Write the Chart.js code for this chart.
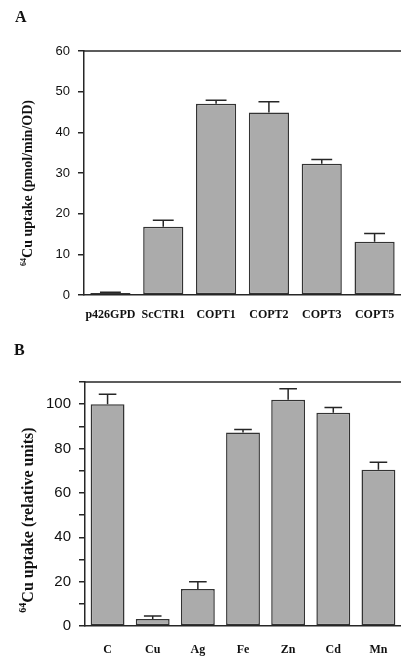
<!DOCTYPE html>
<html><head><meta charset="utf-8">
<script src="https://cdn.jsdelivr.net/npm/chart.js@4"></script>
<style>
html,body{margin:0;padding:0;background:#fff;width:401px;height:657px;overflow:hidden}
.wrap{position:absolute;left:0;width:401px}
#wa{top:0;height:330px}
#wb{top:330px;height:327px}
</style></head><body>
<div class="wrap" id="wa"><canvas id="ca"></canvas></div>
<div class="wrap" id="wb"><canvas id="cb"></canvas></div>
<script>
// Panel A data
const categoriesA = ['p426GPD', 'ScCTR1', 'COPT1', 'COPT2', 'COPT3', 'COPT5'];
const uptakeA = [0.5, 16.8, 47.0, 44.9, 32.3, 13.1];
const errorA = [0.2, 1.6, 0.9, 2.6, 1.0, 2.0];
const tickLabelsA = [0, 10, 20, 30, 40, 50, 60];
// Panel B data
const categoriesB = ['C', 'Cu', 'Ag', 'Fe', 'Zn', 'Cd', 'Mn'];
const uptakeB = [100, 3.2, 16.7, 87.2, 102, 96.1, 70.4];
const errorB = [4.5, 1.3, 3.3, 1.4, 5.0, 2.4, 3.4];
const tickLabelsB = [0, 20, 40, 60, 80, 100];

const INK = '#262626';
const SANS = '"Liberation Sans", Arial, sans-serif';
const SERIF = '"Liberation Serif", "Times New Roman", serif';

const errPlugin = {
  id: 'errbars',
  afterDatasetsDraw(chart, args, opts) {
    const meta = chart.getDatasetMeta(0);
    const ys = chart.scales.y;
    const vals = chart.data.datasets[0].data;
    const ctx = chart.ctx;
    ctx.save();
    ctx.strokeStyle = INK;
    ctx.lineWidth = 1.5;
    meta.data.forEach((bar, i) => {
      const yt = ys.getPixelForValue(vals[i] + opts.errors[i]);
      const half = bar.width * 0.26;
      ctx.beginPath();
      ctx.moveTo(bar.x, bar.y);
      ctx.lineTo(bar.x, yt);
      ctx.moveTo(bar.x - half, yt);
      ctx.lineTo(bar.x + half, yt);
      ctx.stroke();
    });
    ctx.restore();
  },
  afterDraw(chart, args, opts) {
    const ctx = chart.ctx;
    const ca = chart.chartArea;
    ctx.save();
    // top frame line
    ctx.strokeStyle = INK;
    ctx.lineWidth = 1.5;
    ctx.beginPath();
    ctx.moveTo(ca.left, ca.top);
    ctx.lineTo(chart.width, ca.top);
    ctx.stroke();
    // panel letter
    ctx.fillStyle = '#111';
    ctx.font = 'bold 16px ' + SERIF;
    ctx.textBaseline = 'alphabetic';
    ctx.textAlign = 'left';
    ctx.fillText(opts.letter, opts.letterX, opts.letterY);
    // rotated y title with superscript
    ctx.translate(opts.titleX, opts.titleY);
    ctx.rotate(-Math.PI / 2);
    const fs = opts.titleSize;
    const ss = Math.round(fs * 0.6);
    ctx.font = 'bold ' + ss + 'px ' + SERIF;
    const sw = ctx.measureText('64').width;
    ctx.font = 'bold ' + fs + 'px ' + SERIF;
    const tw = ctx.measureText(opts.title).width;
    const x0 = -(sw + tw) / 2;
    const base = fs * 0.35;
    ctx.font = 'bold ' + ss + 'px ' + SERIF;
    ctx.fillText('64', x0, base - fs * 0.4);
    ctx.font = 'bold ' + fs + 'px ' + SERIF;
    ctx.fillText(opts.title, x0 + sw, base);
    ctx.restore();
  }
};

function makeChart(id, labels, values, errors, yMax, labelList, cfg) {
  return new Chart(document.getElementById(id), {
    type: 'bar',
    data: {
      labels: labels,
      datasets: [{
        data: values,
        backgroundColor: '#ababab',
        borderColor: '#333333',
        borderWidth: 1.5,
        borderSkipped: false,
        barPercentage: cfg.barPct,
        categoryPercentage: 1
      }]
    },
    options: {
      responsive: true,
      maintainAspectRatio: false,
      devicePixelRatio: 1,
      animation: false,
      events: [],
      layout: { padding: { top: cfg.top, right: 0, left: 0, bottom: 0 } },
      plugins: {
        legend: { display: false },
        tooltip: { enabled: false },
        errbars: {
          errors: errors,
          letter: cfg.letter, letterX: cfg.letterX, letterY: cfg.letterY,
          title: cfg.title, titleX: cfg.titleX, titleY: cfg.titleY, titleSize: cfg.titleSize
        }
      },
      scales: {
        x: {
          grid: { display: true, drawOnChartArea: false, drawTicks: true, tickLength: cfg.xPad, color: 'rgba(0,0,0,0)' },
          border: { display: true, color: INK, width: 1.5 },
          ticks: {
            color: '#111',
            font: { family: SERIF, size: 12, weight: 'bold' },
            padding: 0,
            maxRotation: 0,
            autoSkip: false
          },
          afterFit: s => { s.height = cfg.xHeight; }
        },
        y: {
          min: 0,
          max: yMax,
          grid: { drawOnChartArea: false, drawTicks: true, tickLength: 6, color: INK, lineWidth: 1.5 },
          border: { display: true, color: INK, width: 1.5 },
          ticks: {
            stepSize: 10,
            color: '#111',
            font: { family: SANS, size: cfg.tickSize },
            padding: 8,
            callback: v => labelList.includes(v) ? String(v) : ''
          },
          afterFit: s => { s.width = cfg.yWidth; }
        }
      }
    },
    plugins: [errPlugin]
  });
}

makeChart('ca', categoriesA, uptakeA, errorA, 60, tickLabelsA, {
  barPct: 0.76, top: 51, xHeight: 35, yWidth: 84, xPad: 13, tickSize: 13,
  letter: 'A', letterX: 15, letterY: 22,
  title: 'Cu uptake (pmol/min/OD)', titleX: 27, titleY: 183, titleSize: 14
});
makeChart('cb', categoriesB, uptakeB, errorB, 110, tickLabelsB, {
  barPct: 0.75, top: 52, xHeight: 31, yWidth: 85, xPad: 17, tickSize: 15,
  letter: 'B', letterX: 14, letterY: 25,
  title: 'Cu uptake (relative units)', titleX: 27, titleY: 190, titleSize: 16
});
</script>
</body></html>
